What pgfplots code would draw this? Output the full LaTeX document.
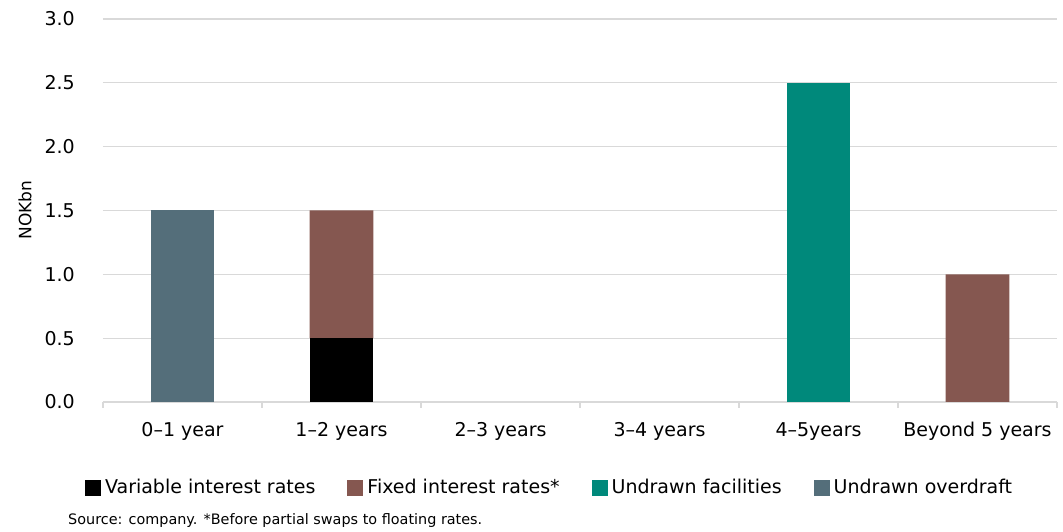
\documentclass[border=0pt]{standalone}
\usepackage{pgfplots}
\pgfplotsset{compat=1.18}
\usepackage{fontspec}
\setmainfont{DejaVu Sans}
\definecolor{cVar}{HTML}{000000}
\definecolor{cFix}{HTML}{855750}
\definecolor{cFac}{HTML}{00897B}
\definecolor{cOvd}{HTML}{546E7A}
\definecolor{gridc}{HTML}{D9D9D9}
\begin{document}
\fontsize{19}{22}\selectfont
\begin{tikzpicture}
\begin{axis}[
  name=ax,
  scale only axis,
  width=954pt, height=383pt,
  ybar stacked,
  bar width=0.4,
  xmin=-0.5, xmax=5.5,
  ymin=0, ymax=3,
  ytick={0,0.5,...,3},
  % category separators on the x axis
  xtick={-0.5,0.5,1.5,2.5,3.5,4.5,5.5},
  xticklabels={},
  major x tick style={draw=gridc, line width=1.2pt},
  major tick length=6pt,
  tick align=outside,
  % category names
  extra x ticks={0,1,2,3,4,5},
  extra x tick labels={0--1 year,1--2 years,2--3 years,3--4 years,4--5years,Beyond 5 years},
  extra x tick style={major tick length=0pt, grid=none},
  axis x line*=bottom,
  axis y line*=left,
  y axis line style={draw=none},
  x axis line style={draw=gridc, line width=1.5pt, -},
  ymajorgrids,
  grid style={draw=gridc, line width=1.3pt},
  major y tick style={draw=none},
  /pgf/number format/assume math mode=true,
  /pgf/number format/.cd, fixed, fixed zerofill, precision=1, /pgfplots/.cd,
  yticklabel style={inner sep=0pt, anchor=east, xshift=-22pt},
  xticklabel style={inner sep=0pt, anchor=north, yshift=-20pt},
  ylabel={NOKbn},
  every axis y label/.style={at={(-78pt,192pt)}, rotate=90, anchor=center, font=\fontsize{17}{20}\selectfont},
  legend columns=4,
  legend style={draw=none, fill=none, anchor=west, at={(-0.019,-0.2245)},
    /tikz/every even column/.append style={column sep=30pt}, inner sep=0pt},
  legend image code/.code={\fill[#1] (0pt,-8pt) rectangle (16pt,8pt); \path (18pt,0pt);},
  legend cell align=left,
  clip=false,
]
\addplot[fill=cVar, draw=none] coordinates {(0,0) (1,0.5) (2,0) (3,0) (4,0) (5,0)};
\addlegendentry{Variable interest rates}
\addplot[fill=cFix, draw=none] coordinates {(0,0) (1,1.0) (2,0) (3,0) (4,0) (5,1.0)};
\addlegendentry{Fixed interest rates*}
\addplot[fill=cFac, draw=none] coordinates {(0,0) (1,0) (2,0) (3,0) (4,2.5) (5,0)};
\addlegendentry{Undrawn facilities}
\addplot[fill=cOvd, draw=none] coordinates {(0,1.5) (1,0) (2,0) (3,0) (4,0) (5,0)};
\addlegendentry{Undrawn overdraft}
\end{axis}
\node[anchor=west, inner sep=0pt, font=\fontsize{14.4}{16}\selectfont] at ([xshift=-35pt, yshift=-119pt]ax.south west) {Source: company. *Before partial swaps to floating rates.};
\pgfresetboundingbox
\useasboundingbox ([xshift=-103pt, yshift=-130pt]ax.south west) rectangle ([xshift=6pt, yshift=19pt]ax.north east);
\end{tikzpicture}
\end{document}
